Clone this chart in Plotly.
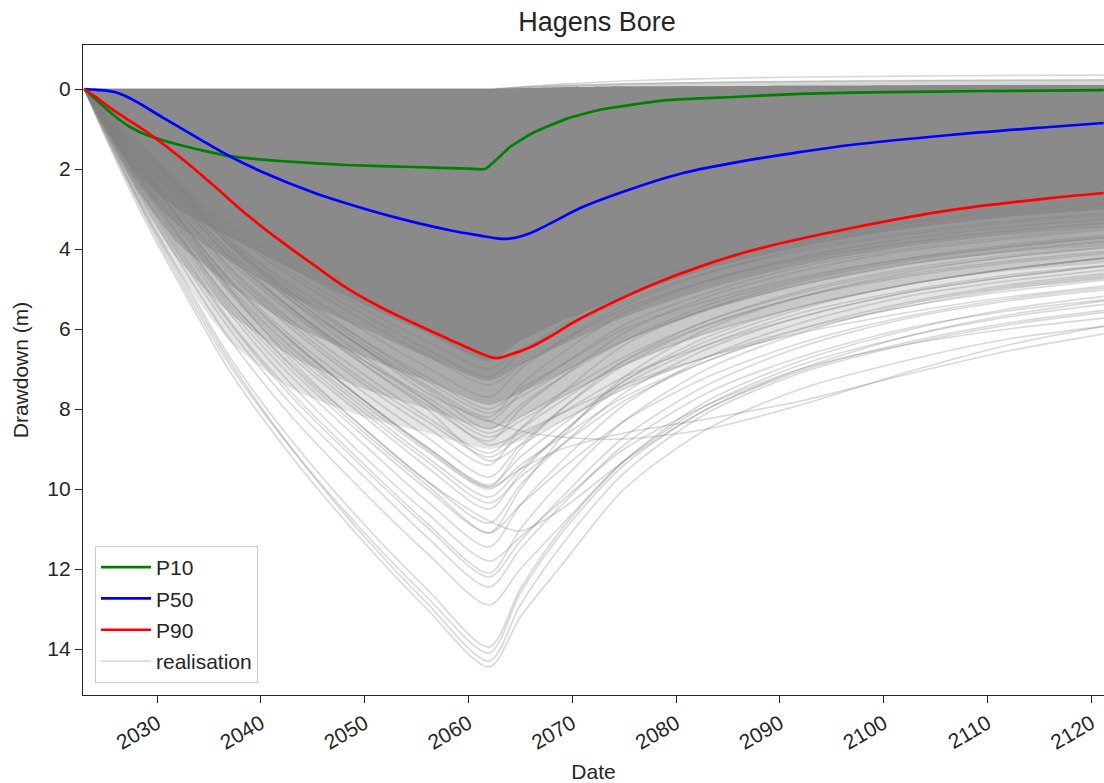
import plotly.graph_objects as go

# ---------------------------------------------------------------- data
# common time grid (years) for the realisation curves
YR = [2023, 2025, 2028, 2032, 2037, 2043, 2050, 2056, 2062, 2065,
      2069, 2075, 2083, 2092, 2102, 2112, 2124]

# individual drawdown realisations (m) on the YR grid
REALISATIONS = [
    [0, 1.2, 2.85, 4.8, 7.05, 9.2, 11.35, 13.0, 14.45, 13.2, 11.9, 10.0, 8.5, 7.5, 6.8, 6.25, 5.85],
    [0, 1.1, 2.7, 4.6, 6.8, 9.0, 11.2, 12.85, 14.3, 12.9, 11.4, 9.6, 8.1, 7.1, 6.4, 5.9, 5.5],
    [0, 1.15, 2.75, 4.7, 6.9, 9.0, 11.1, 12.7, 14.1, 12.6, 11.1, 9.4, 8.0, 7.05, 6.35, 5.85, 5.45],
    [0, 1.1, 2.65, 4.5, 6.7, 8.8, 10.9, 12.5, 13.95, 12.5, 11.0, 9.3, 7.8, 6.8, 6.05, 5.5, 5.1],
    [0, 1.05, 2.5, 4.25, 6.25, 8.2, 10.1, 11.6, 12.9, 12.0, 10.9, 9.3, 7.9, 6.9, 6.2, 5.7, 5.3],
    [0, 1.0, 2.4, 4.1, 6.0, 7.9, 9.7, 11.2, 12.45, 11.5, 10.4, 8.9, 7.6, 6.7, 6.0, 5.55, 5.2],
    [0, 1.0, 2.35, 4.0, 5.85, 7.7, 9.5, 10.95, 12.2, 11.3, 10.2, 8.7, 7.4, 6.45, 5.75, 5.3, 4.95],
    [0, 0.95, 2.3, 3.9, 5.8, 7.6, 9.4, 10.85, 12.1, 11.0, 9.8, 8.3, 7.0, 6.1, 5.4, 4.95, 4.6],
    [0, 0.9, 2.2, 3.8, 5.6, 7.4, 9.2, 10.6, 11.8, 11.2, 10.3, 9.0, 7.9, 7.0, 6.4, 6.0, 5.65],
    [0, 0.9, 2.2, 3.7, 5.5, 7.2, 8.9, 10.3, 11.45, 10.4, 9.3, 7.9, 6.7, 5.85, 5.2, 4.8, 4.45],
    [0, 0.9, 2.1, 3.6, 5.3, 6.95, 8.6, 9.9, 11.1, 10.4, 9.5, 8.3, 7.2, 6.35, 5.7, 5.25, 4.9],
    [0, 0.6, 1.7, 3.2, 5.0, 6.8, 8.5, 9.8, 10.8, 11.05, 10.5, 9.3, 8.0, 7.0, 6.2, 5.65, 5.2],
    [0, 0.9, 2.15, 3.65, 5.4, 7.05, 8.7, 10.0, 11.1, 10.0, 8.7, 7.2, 6.0, 5.2, 4.6, 4.2, 3.9],
    [0, 0.85, 2.1, 3.6, 5.3, 6.9, 8.5, 9.8, 10.85, 9.9, 8.9, 7.6, 6.5, 5.7, 5.1, 4.7, 4.35],
    [0, 0.85, 2.05, 3.5, 5.1, 6.7, 8.2, 9.45, 10.5, 9.6, 8.6, 7.3, 6.2, 5.45, 4.9, 4.5, 4.15],
    [0, 0.85, 2.05, 3.45, 5.05, 6.6, 8.1, 9.3, 10.35, 9.7, 8.9, 7.8, 6.8, 6.0, 5.35, 4.9, 4.55],
    [0, 0.8, 2.0, 3.4, 5.0, 6.5, 8.0, 9.2, 10.2, 9.5, 8.6, 7.4, 6.4, 5.6, 5.05, 4.65, 4.35],
    [0, 0.8, 1.95, 3.35, 4.95, 6.45, 7.9, 9.05, 10.0, 9.4, 8.7, 7.7, 6.8, 6.05, 5.45, 5.0, 4.65],
    [0, 0.8, 1.95, 3.3, 4.9, 6.35, 7.8, 8.95, 9.95, 9.5, 9.0, 8.6, 8.25, 7.8, 7.15, 6.55, 6.0],
    [0, 0.7, 1.8, 3.2, 4.8, 6.3, 7.8, 9.0, 9.95, 9.0, 8.0, 6.8, 5.8, 5.05, 4.5, 4.15, 3.85],
    [0, 0.75, 1.85, 3.2, 4.8, 6.3, 7.8, 8.95, 9.9, 9.2, 8.4, 7.3, 6.3, 5.5, 4.9, 4.5, 4.15],
    [0, 0.8, 1.9, 3.2, 4.75, 6.2, 7.6, 8.7, 9.7, 8.9, 8.0, 6.9, 5.9, 5.2, 4.65, 4.3, 4.0],
    [0, 0.75, 1.85, 3.1, 4.6, 6.0, 7.4, 8.45, 9.4, 8.5, 7.6, 6.4, 5.5, 4.8, 4.3, 3.95, 3.65],
    [0, 0.6, 1.5, 2.7, 4.1, 5.5, 6.9, 8.0, 9.3, 8.9, 8.3, 7.5, 6.7, 6.0, 5.45, 5.05, 4.7],
    [0, 0.7, 1.75, 3.0, 4.5, 5.9, 7.3, 8.3, 9.2, 8.7, 8.1, 7.2, 6.4, 5.7, 5.1, 4.7, 4.35],
    [0, 0.75, 1.8, 3.0, 4.45, 5.8, 7.15, 8.2, 9.1, 8.5, 7.8, 6.8, 5.9, 5.2, 4.7, 4.35, 4.05],
    [0, 0.5, 1.3, 2.5, 3.9, 5.3, 6.7, 7.8, 8.9, 8.6, 8.1, 7.4, 6.7, 6.1, 5.6, 5.2, 4.85],
    [0, 0.7, 1.7, 2.9, 4.3, 5.6, 6.9, 7.9, 8.8, 8.0, 7.2, 6.1, 5.2, 4.55, 4.05, 3.75, 3.45],
    [0, 0.7, 1.6, 2.8, 4.2, 5.5, 6.8, 7.8, 8.7, 8.3, 7.7, 6.9, 6.1, 5.45, 4.9, 4.5, 4.15],
    [0, 0.65, 1.6, 2.8, 4.2, 5.5, 6.8, 7.7, 8.6, 8.2, 7.6, 6.7, 5.8, 5.1, 4.55, 4.2, 3.9],
    [0, 0.6, 1.5, 2.6, 3.9, 5.2, 6.5, 7.5, 8.5, 7.9, 7.2, 6.3, 5.4, 4.75, 4.25, 3.9, 3.6],
    [0, 0.4, 1.2, 2.4, 3.8, 5.2, 6.5, 7.6, 8.3, 8.55, 8.7, 8.75, 8.5, 7.9, 7.1, 6.4, 5.8],
    [0, 0.7, 1.65, 2.75, 4.05, 5.3, 6.5, 7.45, 8.3, 7.6, 6.9, 5.9, 5.1, 4.45, 4.0, 3.7, 3.4],
    [0, 0.55, 1.4, 2.5, 3.8, 5.1, 6.4, 7.4, 8.2, 7.4, 6.6, 5.6, 4.8, 4.2, 3.75, 3.45, 3.2],
    [0, 0.5, 1.3, 2.4, 3.7, 5.0, 6.3, 7.3, 8.1, 7.7, 7.1, 6.3, 5.5, 4.9, 4.4, 4.05, 3.75],
    [0, 0.65, 1.6, 2.65, 3.9, 5.1, 6.3, 7.2, 8.0, 7.5, 6.9, 6.0, 5.3, 4.7, 4.25, 3.95, 3.65],
    [0, 0.65, 1.5, 2.55, 3.8, 4.9, 6.05, 6.95, 7.7, 7.0, 6.3, 5.4, 4.6, 4.0, 3.6, 3.3, 3.05],
    [0, 0.6, 1.45, 2.45, 3.6, 4.7, 5.8, 6.65, 7.4, 6.9, 6.3, 5.5, 4.8, 4.25, 3.85, 3.55, 3.3],
    [0, 0.6, 1.4, 2.4, 3.5, 4.6, 5.65, 6.5, 7.2, 6.6, 5.9, 5.0, 4.3, 3.75, 3.35, 3.05, 2.8],
    [0, 0.55, 1.35, 2.3, 3.4, 4.45, 5.5, 6.3, 7.0, 6.5, 6.0, 5.3, 4.6, 4.05, 3.65, 3.35, 3.1],
    [0, 0, 0, 0, 0, 0, 0, 0, 0, -0.05, -0.12, -0.2, -0.26, -0.3, -0.32, -0.34, -0.35],
    [0, 0, 0, 0, 0, 0, 0, 0, 0, -0.03, -0.07, -0.12, -0.16, -0.19, -0.21, -0.22, -0.23],
]

# envelopes of the densely overlapping realisations (m) on the YR grid,
# from the darkest core outwards
TOP_LIGHT = [0, 0, 0, 0, 0, 0, 0, 0, 0, -0.06, -0.11, -0.15, -0.18, -0.2, -0.22, -0.23, -0.24]
TOP_DENSE = [0, 0, 0, 0, 0, 0, 0, 0, 0, -0.02, -0.04, -0.06, -0.07, -0.08, -0.09, -0.1, -0.1]
ENV_1 = [0, 0.95, 2.1, 3.0, 3.7, 4.5, 5.4, 6.1, 6.8, 6.3, 5.8, 5.2, 4.5, 3.95, 3.5, 3.2, 2.95]
ENV_2 = [0, 1.0, 2.3, 3.4, 4.3, 5.2, 6.0, 6.7, 7.3, 6.9, 6.4, 5.7, 5.0, 4.4, 3.95, 3.65, 3.4]
ENV_3 = [0, 1.05, 2.5, 3.85, 4.9, 5.9, 6.7, 7.3, 7.9, 7.6, 7.1, 6.3, 5.55, 4.9, 4.4, 4.1, 3.85]
ENV_4 = [0, 1.1, 2.65, 4.25, 5.6, 6.7, 7.5, 8.0, 8.5, 8.2, 7.7, 6.9, 6.1, 5.45, 4.9, 4.55, 4.3]
ENV_5 = [0, 1.15, 2.75, 4.55, 6.3, 7.5, 8.2, 8.6, 9.0, 8.8, 8.3, 7.5, 6.7, 6.0, 5.4, 5.0, 4.7]
BAND_GREYS = [214, 228, 200, 171, 152, 138]

# percentile curves
P10_YEARS = [2023, 2024.2, 2025.8, 2027.4, 2029.0, 2032.2, 2037.0, 2041.8, 2048.3, 2054.7,
             2060.0, 2061.6, 2064.0, 2066.2, 2069.5, 2072.7, 2079.1, 2085.5, 2091.9, 2100,
             2110, 2121.2]
P10_VALUES = [0, 0.28, 0.65, 0.95, 1.15, 1.4, 1.68, 1.8, 1.9, 1.95,
              1.99, 2.0, 1.45, 1.1, 0.74, 0.52, 0.28, 0.2, 0.12, 0.08,
              0.05, 0.03]

P50_YEARS = [2023, 2024.2, 2025.8, 2027.4, 2030.6, 2033.9, 2037.0, 2040.2, 2045.0, 2049.8,
             2053.4, 2058.2, 2061.0, 2063.0, 2064.3, 2066.0, 2067.9, 2071.0, 2075.9, 2080.7,
             2087.0, 2091.9, 2096.8, 2106.4, 2116.0, 2121.2]
P50_VALUES = [0, 0.02, 0.07, 0.23, 0.72, 1.22, 1.68, 2.08, 2.58, 2.98,
              3.24, 3.53, 3.66, 3.74, 3.73, 3.6, 3.36, 2.95, 2.48, 2.1,
              1.78, 1.58, 1.4, 1.15, 0.95, 0.85]

P90_YEARS = [2023, 2024.2, 2025.8, 2029.0, 2032.2, 2035.4, 2038.7, 2041.8, 2045.0, 2048.3,
             2051.5, 2054.7, 2057.9, 2061.1, 2062.7, 2064.0, 2066.0, 2068.0, 2070.0, 2072.6,
             2078.4, 2082.3, 2087.1, 2091.9, 2096.8, 2106.4, 2116.0, 2121.2]
P90_VALUES = [0, 0.22, 0.53, 1.07, 1.7, 2.4, 3.15, 3.78, 4.38, 4.98,
              5.45, 5.85, 6.23, 6.6, 6.73, 6.64, 6.45, 6.17, 5.85, 5.5,
              4.82, 4.44, 4.05, 3.75, 3.48, 3.03, 2.73, 2.6]

X_TICKS = [2030, 2040, 2050, 2060, 2070, 2080, 2090, 2100, 2110, 2120]
Y_TICKS = [0, 2, 4, 6, 8, 10, 12, 14]

# ---------------------------------------------------------------- figure
FONT = "Liberation Sans, Arial, sans-serif"
INK = "#262626"
REAL_COLOUR = "rgba(128,128,128,0.3)"
TEXT_SIZE = 21

fig = go.Figure()


def band(upper, lower, grey):
    # invisible upper edge, then the lower edge filled back up to it
    fig.add_trace(go.Scatter(
        x=YR, y=upper, mode="lines",
        line=dict(width=0, shape="spline", smoothing=0.6),
        showlegend=False, hoverinfo="skip"))
    fig.add_trace(go.Scatter(
        x=YR, y=lower, mode="lines", fill="tonexty",
        fillcolor=f"rgb({grey},{grey},{grey})",
        line=dict(width=0, shape="spline", smoothing=0.6),
        showlegend=False, hoverinfo="skip"))


band(TOP_LIGHT, TOP_DENSE, BAND_GREYS[0])
for env, grey in zip([ENV_5, ENV_4, ENV_3, ENV_2, ENV_1], BAND_GREYS[1:]):
    band(TOP_DENSE, env, grey)

for i, row in enumerate(REALISATIONS):
    fig.add_trace(go.Scatter(
        x=YR, y=row, mode="lines",
        line=dict(color=REAL_COLOUR, width=1.7, shape="spline", smoothing=0.8),
        name="realisation", legendgroup="realisation", legendrank=4,
        showlegend=(i == 0), hoverinfo="skip"))

for name, xs, ys, colour, rank, smooth in [
        ("P10", P10_YEARS, P10_VALUES, "green", 1, 0.5),
        ("P50", P50_YEARS, P50_VALUES, "blue", 2, 1.0),
        ("P90", P90_YEARS, P90_VALUES, "red", 3, 1.0)]:
    fig.add_trace(go.Scatter(
        x=xs, y=ys, mode="lines", name=name, legendgroup=name, legendrank=rank,
        line=dict(color=colour, width=2.7, shape="spline", smoothing=smooth)))

fig.update_layout(
    width=1104, height=783,
    margin=dict(l=83, r=0, t=45, b=88),
    paper_bgcolor="white", plot_bgcolor="white",
    font=dict(family=FONT, size=TEXT_SIZE, color=INK),
    title=dict(text="Hagens Bore", x=597 / 1104, xref="container", xanchor="center",
               y=1 - 22 / 783, yref="container", yanchor="middle",
               font=dict(family=FONT, size=27, color=INK)),
    showlegend=True,
    legend=dict(x=12 / 1021, y=12 / 650, xanchor="left", yanchor="bottom",
                bgcolor="rgba(255,255,255,0.8)", bordercolor="#cccccc", borderwidth=1,
                font=dict(family=FONT, size=TEXT_SIZE, color=INK),
                tracegroupgap=1, itemwidth=50),
    xaxis=dict(range=[2022.87, 2121.23], tickmode="array", tickvals=X_TICKS,
               ticktext=[str(t) for t in X_TICKS], tickangle=-30,
               ticks="outside", ticklen=7, tickwidth=1.3, tickcolor=INK,
               showline=True, linecolor=INK, linewidth=1.3, mirror=True,
               showgrid=False, zeroline=False,
               title=dict(text="Date", font=dict(family=FONT, size=TEXT_SIZE, color=INK), standoff=11)),
    yaxis=dict(range=[15.15, -1.1], tickmode="array", tickvals=Y_TICKS,
               ticktext=[str(t) for t in Y_TICKS],
               ticks="outside", ticklen=7, tickwidth=1.3, tickcolor=INK,
               showline=True, linecolor=INK, linewidth=1.3, mirror=False,
               showgrid=False, zeroline=False,
               title=dict(text="Drawdown (m)", font=dict(family=FONT, size=TEXT_SIZE, color=INK), standoff=12)),
)

fig.write_html("out.html")
